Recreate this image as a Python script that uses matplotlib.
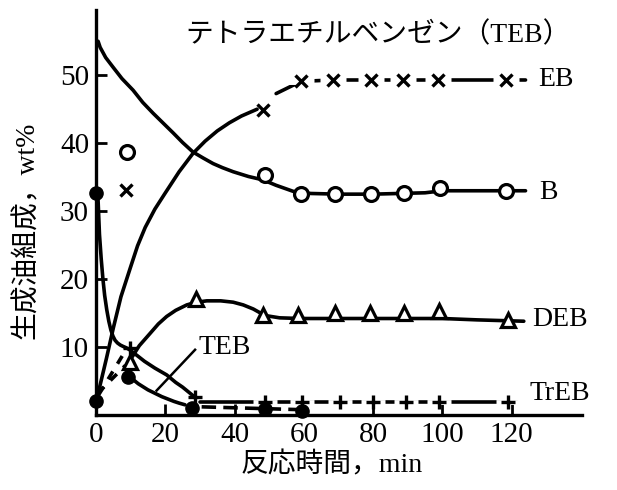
import matplotlib
matplotlib.use("Agg")
import matplotlib.pyplot as plt

# ---------------- data ----------------
x_ticks = [0, 20, 40, 60, 80, 100, 120]
y_ticks = [10, 20, 30, 40, 50]

# B (open circles)
b_t = [8.9, 48.8, 59.2, 69, 79.4, 89, 99.4, 118.5]
b_v = [38.7, 35.3, 32.5, 32.5, 32.5, 32.6, 33.4, 33.0]
b_curve_t = [0.6, 1.2, 2.8, 4.9, 7.5, 10.7, 13.5, 16.5, 19.5, 22.3, 25, 28, 31, 33.8, 36.5, 39.6,
             44, 48.2, 52, 57, 62, 70, 80, 95, 100, 110, 124]
b_curve_v = [55.0, 54.1, 52.6, 51.2, 49.5, 47.8, 46.0, 44.4, 42.9, 41.5, 40.1, 38.7, 37.8, 37.0,
             36.4, 35.8, 35.1, 34.6, 33.8, 32.9, 32.6, 32.5, 32.5, 32.7, 33.0, 33.0, 33.0]

# EB (x markers)
eb_t = [8.7, 48.3, 59.2, 68.5, 79.5, 88.7, 98.6, 118.5]
eb_v = [33.1, 44.9, 49.1, 49.3, 49.3, 49.3, 49.3, 49.3]
eb_curve_t = [0.3, 3, 5, 7.2, 10, 12, 14.2, 17, 19.9, 24, 28, 31.5, 35, 38.5, 42, 46.5]
eb_curve_v = [2.5, 8.3, 12.8, 17.4, 21.8, 24.9, 27.6, 30.3, 32.6, 35.8, 38.5, 40.3, 41.8, 43.0, 44.0, 45.0]
eb_tail_t = [52, 59.2, 68.5, 79.5, 88.7, 98.6, 118.5, 124]
eb_tail_v = [47.3, 49.1, 49.3, 49.3, 49.3, 49.3, 49.3, 49.3]

# DEB (triangles)
deb_t = [9.8, 29, 48.3, 58.2, 69, 79, 89, 99, 118.8]
deb_v = [7.8, 17.0, 14.7, 14.7, 15.0, 15.0, 15.0, 15.3, 14.0]
deb_curve_t = [10.5, 12.5, 15.6, 18, 20.4, 23, 26.2, 29, 32, 36, 39.6, 42.5, 45.4, 47.5, 49.3,
               53, 59, 70, 100, 110, 123.5]
deb_curve_v = [8.6, 10.2, 12.0, 13.4, 14.5, 15.4, 16.2, 16.6, 16.8, 16.8, 16.6, 16.2, 15.6, 15.0,
               14.6, 14.3, 14.2, 14.2, 14.2, 14.0, 13.8]
deb_dash_t = [0.5, 8.5]
deb_dash_v = [3.2, 7.3]

# TrEB (plus)
treb_t = [9.7, 28.6, 48.8, 59.5, 70.5, 80, 89.6, 99, 118.8]
treb_v = [9.9, 2.6, 1.9, 1.9, 1.9, 1.9, 1.9, 1.9, 1.9]
treb_curve_t = [0.6, 1.0, 1.5, 2.0, 2.5, 3.1, 3.7, 4.3, 4.9, 5.5, 6.2, 7.0, 7.8, 8.7, 9.7,
                12, 14, 17, 20.4, 23, 25, 28.6]
treb_curve_v = [31.6, 26.6, 23.0, 20.0, 17.6, 15.5, 13.8, 12.5, 11.6, 11.0, 10.6, 10.3, 10.1, 9.9, 9.6,
                8.7, 7.9, 6.9, 5.9, 4.8, 4.1, 2.6]
treb_tail_t = [30, 121.5]
treb_tail_v = [1.95, 1.95]
treb_dash_t = [0.8, 8.3]
treb_dash_v = [3.0, 9.3]

# TEB (filled circles)
teb_t = [0, 0, 9.2, 27.8, 48.8, 59.5]
teb_v = [32.6, 2.0, 5.6, 1.1, 0.9, 0.6]
teb_curve_t = [10.5, 12.2, 15, 17, 19, 21, 22.5, 24, 25.7]
teb_curve_v = [5.3, 4.6, 3.7, 3.2, 2.7, 2.3, 2.0, 1.75, 1.5]
teb_tail_t = [30.5, 58]
teb_tail_v = [1.2, 0.8]

# ---------------- figure ----------------
W, H = 617, 490
fig = plt.figure(figsize=(W / 100, H / 100), dpi=100)
fig.patch.set_facecolor("white")
ax = fig.add_axes([96 / W, 75 / H, 486 / W, 405 / H])
ax.set_xlim(0, 140.3)
ax.set_ylim(0, 59.6)
for s in ["top", "right"]:
    ax.spines[s].set_visible(False)
for s in ["left", "bottom"]:
    ax.spines[s].set_linewidth(2.4)
    ax.spines[s].set_color("black")

serif = ["Liberation Serif", "Noto Sans CJK JP"]

ax.set_xticks(x_ticks)
ax.set_xticklabels([str(v) for v in x_ticks])
ax.set_yticks(y_ticks)
ax.set_yticklabels([str(v) for v in y_ticks])
ax.tick_params(direction="in", length=8, width=2, labelsize=21, colors="black")
ax.tick_params(axis="y", pad=5)
ax.tick_params(axis="x", pad=5)
for lab in ax.get_xticklabels() + ax.get_yticklabels():
    lab.set_fontfamily(serif)

LW = 2.6
k = "black"
common = dict(clip_on=False, solid_capstyle="round", solid_joinstyle="round")

# curves
ax.plot(b_curve_t, b_curve_v, color=k, lw=LW, zorder=2, **common)
ax.plot(eb_curve_t, eb_curve_v, color=k, lw=LW, zorder=2, **common)
ax.plot(eb_tail_t, eb_tail_v, color=k, lw=LW, zorder=2, **common)
ax.plot(deb_curve_t, deb_curve_v, color=k, lw=LW, zorder=2, **common)
ax.plot(deb_dash_t, deb_dash_v, color=k, lw=LW, ls=(0, (2.5, 2.5)), zorder=2, clip_on=False)
ax.plot(treb_curve_t, treb_curve_v, color=k, lw=LW, zorder=2, **common)
ax.plot(treb_tail_t, treb_tail_v, color=k, lw=LW, zorder=2, **common)
ax.plot(treb_dash_t, treb_dash_v, color=k, lw=LW, ls=(0, (2.5, 2.5)), zorder=2, clip_on=False)
ax.plot(teb_curve_t, teb_curve_v, color=k, lw=LW, zorder=2, **common)
ax.plot(teb_tail_t, teb_tail_v, color=k, lw=LW, ls=(0, (4, 2)), zorder=2, clip_on=False)

# white gaps around markers on the dashed-looking tails
ax.plot(eb_tail_t[1:-1], eb_tail_v[1:-1], ls="none", marker="_", ms=19, mew=5,
        color="white", zorder=3, clip_on=False)
ax.plot(treb_t[2:], treb_v[2:], ls="none", marker="_", ms=17, mew=3.5,
        color="white", zorder=3, clip_on=False)

# markers
ax.plot(b_t, b_v, ls="none", marker="o", ms=10, mew=2.3, mfc="white", mec=k, zorder=4, clip_on=False)
ax.plot(eb_t, eb_v, ls="none", marker="x", ms=8, mew=2.4, color=k, zorder=4, clip_on=False)
ax.plot(deb_t, deb_v, ls="none", marker="^", ms=10, mew=2.3, mfc="white", mec=k, zorder=4, clip_on=False)
ax.plot(treb_t, treb_v, ls="none", marker="+", ms=10, mew=2.4, color=k, zorder=5, clip_on=False)
ax.plot(teb_t, teb_v, ls="none", marker="o", ms=9.5, color=k, zorder=5, clip_on=False)

# series labels
lab_kw = dict(fontsize=20, family=serif, va="center", ha="left", color=k)
ax.text(127.6, 49.3, "EB", **lab_kw)
ax.text(128.0, 32.7, "B", **lab_kw)
ax.text(126.0, 14.0, "DEB", **lab_kw)
ax.text(125.2, 3.1, "TrEB", **lab_kw)
ax.text(29.5, 10.0, "TEB", **lab_kw)
ax.plot([28.6, 17.5], [9.6, 3.6], color=k, lw=1.8, zorder=2)

# title and axis labels
fig.text(185 / W, 1 - 35 / H, "テトラエチルベンゼン（TEB）", fontsize=20,
         family=serif, ha="left", va="center")
fig.text(332 / W, 1 - 465 / H, "反応時間，min", fontsize=20,
         family=serif, ha="center", va="center")
fig.text(27 / W, 1 - 230 / H, "生成油組成，wt%", fontsize=20,
         family=serif, ha="center", va="center", rotation=90)

fig.savefig("out.png", dpi=100, facecolor="white")
